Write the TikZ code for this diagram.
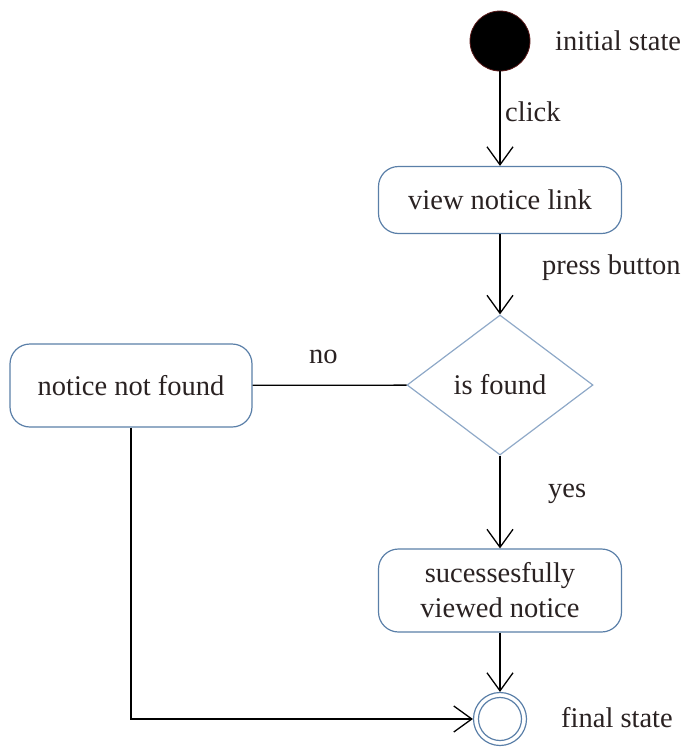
\documentclass[tikz,border=0pt]{standalone}
\usepackage{fontspec}
\setmainfont{Liberation Serif}
\usetikzlibrary{shapes.geometric,arrows.meta}
\definecolor{boxblue}{HTML}{5A7FA8}
\definecolor{diablue}{HTML}{8FA9C8}
\definecolor{initred}{HTML}{5A1A1A}
\definecolor{txt}{HTML}{2A2222}
\begin{document}
\begin{tikzpicture}[x=1pt,y=-1pt,
  every node/.style={font=\fontsize{28.5}{35}\selectfont,text=txt},
  actbox/.style={draw=boxblue,line width=1.2pt,rounded corners=20pt,
    minimum width=243pt,align=center,inner sep=0pt},
  decision/.style={diamond,draw=diablue,line width=1.2pt,
    minimum width=186pt,minimum height=140pt,inner sep=0pt},
  flow/.style={line width=1.3pt,draw=black,
    -{Straight Barb[length=18pt,width=26pt,line width=1.3pt]}},
  plain/.style={line width=1.3pt,draw=black},
  lbl/.style={anchor=west,inner sep=0pt}]
\useasboundingbox (0,0) rectangle (696,747);

% start and end markers
\node[circle,fill=black,draw=initred,line width=0.8pt,minimum size=60pt,inner sep=0pt] (init) at (500,41) {};
\node[circle,draw=boxblue,line width=1.2pt,minimum size=53pt,inner sep=0pt] (final) at (500,719) {};
\node[circle,draw=boxblue,line width=1.2pt,minimum size=43pt,inner sep=0pt] (finalin) at (500,719) {};

% activities and decision
\node[actbox,minimum height=67pt] (view) at (500,200) {view notice link};
\node[decision] (dec) at (500,385) {is found};
\node[actbox,minimum width=242pt,minimum height=83pt] (nf) at (131,385.5) {notice not found};
\node[actbox,minimum height=83pt] (succ) at (500,590.5) {sucessesfully\\viewed notice};

% connectors
\draw[flow] (init) -- (view);
\draw[flow] (view) -- (dec);
\draw[plain] (dec) -- (nf);
\draw[flow] (dec) -- (succ);
\draw[flow] (succ) -- (final);
\coordinate (corner) at (nf.south |- final);
\draw[flow] (nf.south) -- (corner) -- (final.west);

% labels
\node[lbl] (l1) at (555,41) {initial state};
\node[lbl] (l2) at (505,112) {click};
\node[lbl] (l3) at (542,268) {press button};
\node[lbl] (l4) at (309,357) {no};
\node[lbl] (l5) at (548,494) {yes};
\node[lbl] (l6) at (561,718) {final state};
\end{tikzpicture}
\end{document}
